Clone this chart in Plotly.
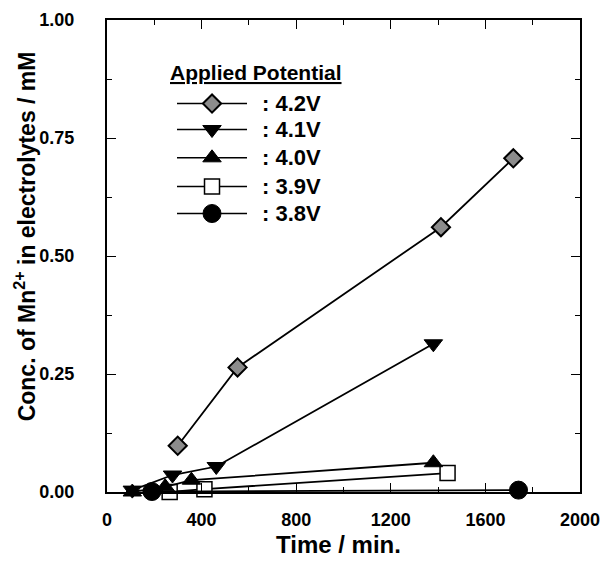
import plotly.graph_objects as go

# ---- data ----
labels = [": 4.2V", ": 4.1V", ": 4.0V", ": 3.9V", ": 3.8V"]
t_42 = [299, 552, 1412, 1718]
c_42 = [0.098, 0.264, 0.561, 0.707]
t_41 = [107, 277, 462, 1380]
c_41 = [0.004, 0.036, 0.054, 0.314]
t_40 = [107, 246, 357, 1380]
c_40 = [0.000, 0.011, 0.025, 0.062]
t_39 = [265, 412, 1440]
c_39 = [0.000, 0.006, 0.040]
t_38 = [190, 1740]
c_38 = [0.001, 0.004]

x_ticks = [0, 400, 800, 1200, 1600, 2000]
y_ticks = [0.00, 0.25, 0.50, 0.75, 1.00]

# styles
FONT = "Liberation Sans, Arial, sans-serif"
styles = {
    ": 4.2V": dict(symbol="diamond", size=14, color="#8c8c8c", lc="black", lw=2),
    ": 4.1V": dict(symbol="triangle-down", size=16, color="black", lc="black", lw=1),
    ": 4.0V": dict(symbol="triangle-up", size=16, color="black", lc="black", lw=1),
    ": 3.9V": dict(symbol="square", size=15, color="white", lc="black", lw=1.5),
    ": 3.8V": dict(symbol="circle", size=18, color="black", lc="black", lw=1),
}
series = {
    ": 4.2V": (t_42, c_42),
    ": 4.1V": (t_41, c_41),
    ": 4.0V": (t_40, c_40),
    ": 3.9V": (t_39, c_39),
    ": 3.8V": (t_38, c_38),
}
draw_order = [": 3.9V", ": 3.8V", ": 4.0V", ": 4.1V", ": 4.2V"]

fig = go.Figure()
for name in draw_order:
    xs, ys = series[name]
    s = styles[name]
    fig.add_trace(go.Scatter(
        x=xs, y=ys, mode="lines+markers", name=name, showlegend=False,
        line=dict(color="black", width=1.8),
        marker=dict(symbol=s["symbol"], size=s["size"], color=s["color"],
                    line=dict(color=s["lc"], width=s["lw"])),
        cliponaxis=False,
    ))

# custom legend drawn on an overlay axis with 0..1 range
leg_y = [0.823, 0.768, 0.708, 0.647, 0.590]
leg_x0, leg_xm, leg_x1, leg_tx = 0.148, 0.222, 0.296, 0.323
for name, yy in zip(labels, leg_y):
    s = styles[name]
    fig.add_trace(go.Scatter(
        x=[leg_x0, leg_x1], y=[yy, yy], mode="lines", showlegend=False,
        line=dict(color="black", width=1.5), xaxis="x2", yaxis="y2",
        hoverinfo="skip"))
    fig.add_trace(go.Scatter(
        x=[leg_xm], y=[yy], mode="markers", showlegend=False,
        marker=dict(symbol=s["symbol"], size=s["size"], color=s["color"],
                    line=dict(color=s["lc"], width=s["lw"])),
        xaxis="x2", yaxis="y2", hoverinfo="skip"))
    fig.add_annotation(x=leg_tx, y=yy, xref="x2", yref="y2", text=name,
                       showarrow=False, xanchor="left", yanchor="middle",
                       font=dict(family=FONT, size=22, color="black", weight="bold"))

fig.add_annotation(x=0.129, y=0.889, xref="x2", yref="y2",
                   text="<u>Applied Potential</u>", showarrow=False,
                   xanchor="left", yanchor="middle",
                   font=dict(family=FONT, size=21, color="black", weight="bold"))

# axis titles
fig.add_annotation(x=-0.174, y=0.541, xref="paper", yref="paper",
                   text="Conc. of Mn<sup>2+</sup> in electrolytes / mM",
                   textangle=-90, showarrow=False, xanchor="center", yanchor="middle",
                   font=dict(family=FONT, size=23, color="black", weight="bold"))
fig.add_annotation(x=0.49, y=-0.112, xref="paper", yref="paper",
                   text="Time / min.", showarrow=False, xanchor="center", yanchor="middle",
                   font=dict(family=FONT, size=24, color="black", weight="bold"))

axis_common = dict(
    showgrid=False, zeroline=False, showline=True, linecolor="black", linewidth=2,
    mirror="allticks", ticks="inside", ticklen=9, tickwidth=1.3, tickcolor="black",
    tickfont=dict(family=FONT, size=18, color="black", weight="bold"),
)
# page body has an 8px margin: figure is 8px smaller and margins compensate
fig.update_layout(
    width=605, height=561,
    margin=dict(l=99, r=33, t=12, b=77, autoexpand=False),
    paper_bgcolor="white", plot_bgcolor="white",
    xaxis=dict(range=[0, 2000], tickvals=x_ticks, ticklabelstandoff=10,
               minor=dict(dtick=200, ticks="inside", ticklen=5, tickcolor="black", tickwidth=1.2),
               **axis_common),
    yaxis=dict(range=[0, 1], tickvals=y_ticks, tickformat=".2f", ticklabelstandoff=27,
               minor=dict(dtick=0.125, ticks="inside", ticklen=5, tickcolor="black", tickwidth=1.2),
               **axis_common),
    xaxis2=dict(overlaying="x", range=[0, 1], visible=False),
    yaxis2=dict(overlaying="y", range=[0, 1], visible=False),
)

fig.write_html("out.html")
